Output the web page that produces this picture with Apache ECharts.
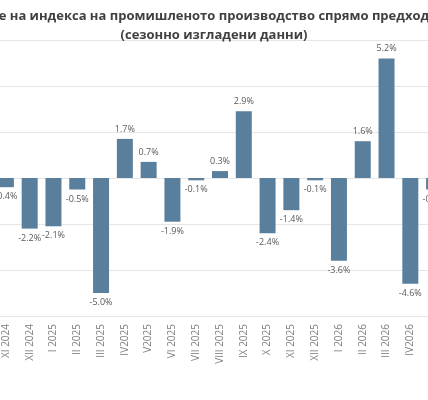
<!DOCTYPE html>
<html>
<head>
<meta charset="utf-8">
<script src="https://cdn.jsdelivr.net/npm/echarts@6/dist/echarts.min.js"></script>
<style>
  html, body { margin: 0; padding: 0; overflow: hidden; background: #fff; }
  #chart { position: absolute; left: -100px; top: 0; width: 628px; height: 400px; }
</style>
</head>
<body>
<div id="chart"></div>
<script>
// месеци и стойности (%)
var months = ['XI 2024', 'XII 2024', 'I 2025', 'II 2025', 'III 2025', 'IV2025', 'V2025', 'VI 2025',
  'VII 2025', 'VIII 2025', 'IX 2025', 'X 2025', 'XI 2025', 'XII 2025', 'I 2026', 'II 2026',
  'III 2026', 'IV2026', 'V 2026'];
var changes = [-0.4, -2.2, -2.1, -0.5, -5.0, 1.7, 0.7, -1.9, -0.1, 0.3, 2.9, -2.4, -1.4, -0.1,
  -3.6, 1.6, 5.2, -4.6, -0.5];

var myChart = echarts.init(document.getElementById('chart'));
myChart.setOption({
  animation: false,
  title: {
    text: 'Изменение на индекса на промишленото производство спрямо предходния месец\n(сезонно изгладени данни)',
    left: 'center',
    top: 2,
    textStyle: { fontFamily: 'Open Sans', fontSize: 13, fontWeight: 'bold', color: '#404040', lineHeight: 19 }
  },
  grid: { left: 94, width: 452, top: 40, bottom: 84 },
  xAxis: {
    type: 'category',
    data: months,
    axisLine: { show: false },
    axisTick: { show: false },
    axisLabel: { rotate: 90, fontSize: 10, color: '#7f7f7f', fontFamily: 'Open Sans', margin: 8 },
    position: 'bottom'
  },
  yAxis: {
    type: 'value',
    min: -6,
    max: 6,
    interval: 2,
    axisLabel: { show: false },
    splitLine: { lineStyle: { color: '#e6e6e6' } }
  },
  series: [{
    type: 'bar',
    data: changes,
    barWidth: 16,
    itemStyle: { color: '#5a7f9c' },
    label: {
      show: true,
      fontSize: 9,
      color: '#595959',
      fontFamily: 'Open Sans',
      formatter: function (p) { return p.value.toFixed(1) + '%'; },
      position: 'top'
    },
    labelLayout: function (p) { return {}; }
  }]
});
// отрицателните етикети отдолу
myChart.setOption({
  series: [{
    data: changes.map(function (v) {
      return { value: v, label: { position: v < 0 ? 'bottom' : 'top' } };
    })
  }]
});
</script>
</body>
</html>
